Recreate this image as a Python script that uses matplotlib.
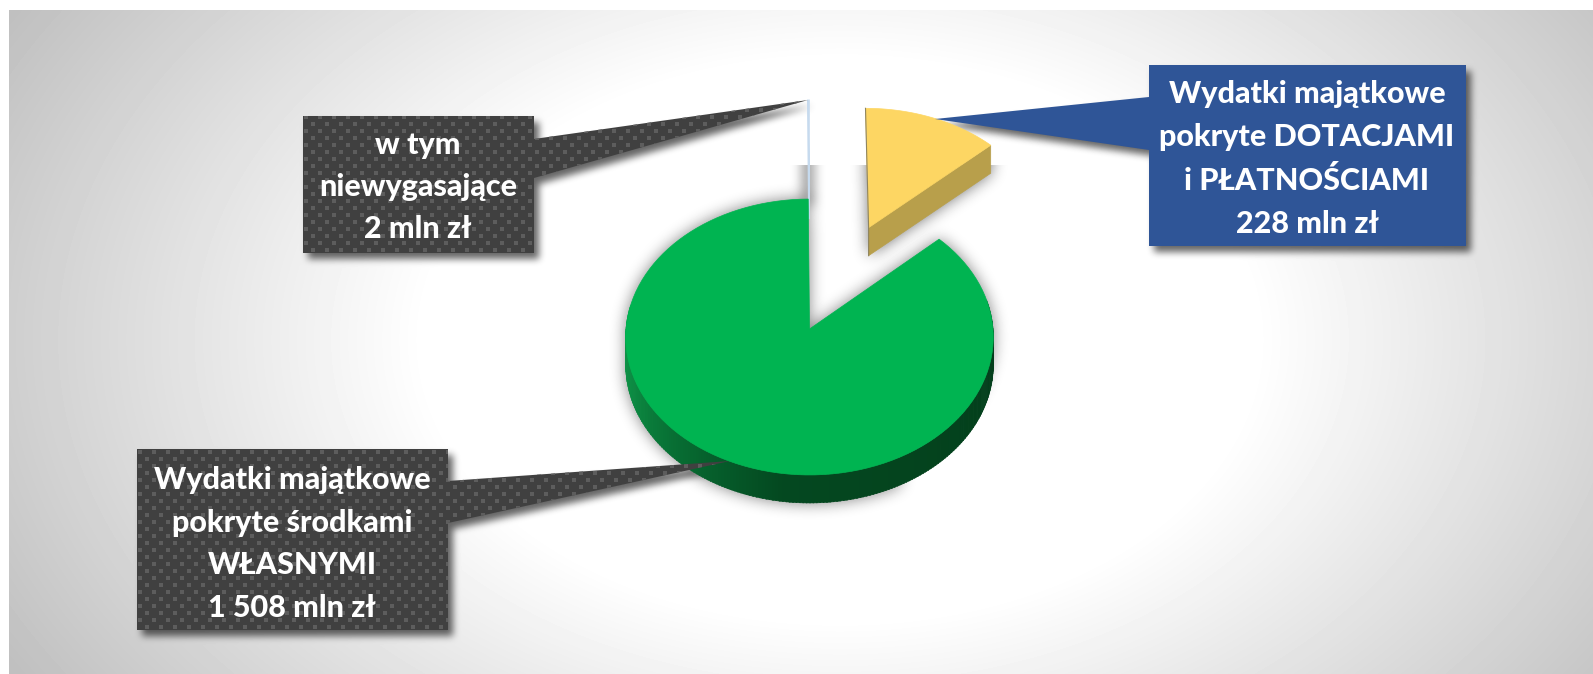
#!/usr/bin/env python3
# pie with tilted look, drawn by hand because matplotlib has no 3D pie
import numpy as np
import matplotlib
matplotlib.use('Agg')
import matplotlib.pyplot as plt
from matplotlib.patches import Polygon
from matplotlib.collections import PolyCollection
from matplotlib.path import Path

W, H = 1593, 674

# data, mln zl, clockwise from 12 o'clock
values = [228, 1508, 2]
explode = [0.84, 0.0, 0.84]
top_colors = ['#fdd663', '#00b451', '#c6daee']

label_own = 'Wydatki majątkowe\npokryte środkami\nWŁASNYMI\n1 508 mln zł'
label_grant = 'Wydatki majątkowe\npokryte DOTACJAMI\ni PŁATNOŚCIAMI\n228 mln zł'
label_nonexp = 'w tym\nniewygasające\n2 mln zł'

# pie placement on the canvas
cx, cy = 809.5, 329
rx, ry = 183.5, 137.5
persp = 0.058
depth = 28


def project(u, v):
    w = 1 + persp * v
    return np.column_stack([cx + rx * u / w, cy - ry * v / w])


def sector(a1, a2, boom, n=120):
    # a1 > a2, degrees. returns the arc and the apex in canvas coordinates
    mid = np.radians((a1 + a2) / 2)
    ox, oy = boom * np.cos(mid), boom * np.sin(mid)
    t = np.radians(np.linspace(a1, a2, n))
    arc = project(ox + np.cos(t), oy + np.sin(t))
    apex = project(np.array([ox]), np.array([oy]))
    return arc, apex


def blur(m, r):
    for _ in range(3):
        for ax_ in (0, 1):
            c = np.cumsum(m, axis=ax_)
            m = (np.roll(c, -r, axis=ax_) - np.roll(c, r + 1, axis=ax_)) / (2 * r + 1)
            # roll wraps round, edges are not important here but zero them
            if ax_ == 0:
                m[:r + 1, :] = 0
                m[-r - 1:, :] = 0
            else:
                m[:, :r + 1] = 0
                m[:, -r - 1:] = 0
    return np.clip(m, 0, 1)


xx, yy = np.meshgrid(np.arange(W) + 0.5, np.arange(H) + 0.5)
grid_pts = np.column_stack([xx.ravel(), yy.ravel()])


def mask_of(poly, dx=0, dy=0):
    return Path(np.asarray(poly) + [dx, dy]).contains_points(grid_pts).reshape(H, W).astype(float)


# angles of each slice
total = sum(values)
edges = 90 - np.cumsum([0] + values) / total * 360
sectors = [sector(edges[i], edges[i + 1], explode[i]) for i in range(3)]

arc_y, apex_y = sectors[0]
arc_g, apex_g = sectors[1]
arc_s, apex_s = sectors[2]

poly_y = np.vstack([apex_y, arc_y])
poly_g = np.vstack([apex_g, arc_g])
poly_s = np.vstack([apex_s, arc_s])

# callouts
box_own = [(137, 449), (448, 449), (448, 481), (730, 461), (448, 523), (448, 630), (137, 630)]
box_grant = [(1149, 65), (1466, 65), (1466, 246), (1149, 246), (1149, 150), (935, 119), (1149, 97)]
box_nonexp = [(303, 116), (534, 116), (534, 139), (808, 100), (534, 178), (534, 253), (303, 253)]

# background, grey at the edges going white round the pie
dx_ = (xx - 840) / 830
dy_ = (yy - 340) / 560
rr = np.sqrt(dx_ ** 2 + dy_ ** 2)
t = np.clip((rr - 0.5) / 0.65, 0, 1)
bg = 255 - 63 * t

# shadows
for b in (box_own, box_grant, box_nonexp):
    bg *= 1 - 0.6 * blur(mask_of(b, 5, 6), 3)

# whole green disc with its side
green_body = mask_of(poly_g) + mask_of(np.vstack([arc_g[40:], arc_g[40:][::-1] + [0, depth]]))
bg *= 1 - 0.5 * blur(np.clip(green_body, 0, 1), 7)

m = blur(np.clip(mask_of(poly_y) + mask_of(np.vstack([apex_y, arc_y[-1:], arc_y[-1:] + [0, depth], apex_y + [0, depth]])), 0, 1), 7)
m[:165, :] = 0
bg *= 1 - 0.55 * m

# sliver throws a soft patch as well, cut off at the same line
m = blur(mask_of([(802, 150), (814, 150), (814, 205), (802, 205)]), 5)
m[:165, :] = 0
bg *= 1 - 0.4 * m

bg[:10, :] = 255
bg[:, :9] = 255

fig = plt.figure(figsize=(W / 100, H / 100), dpi=100)
ax = fig.add_axes([0, 0, 1, 1])
ax.imshow(bg, cmap='gray', vmin=0, vmax=255, extent=(0, W, H, 0), interpolation='bilinear', zorder=0)

# sliver
ax.add_patch(Polygon(poly_s, closed=True, facecolor=top_colors[2], edgecolor=top_colors[2], lw=1.2, zorder=2))

# green side, colour runs along the rim
a_side = np.linspace(170, 372, 203)
stops_a = [170, 200, 235, 262, 372]
stops_c = np.array([[14, 158, 76], [12, 138, 66], [6, 100, 46], [4, 72, 32], [3, 60, 26]]) / 255
quads, cols = [], []
for a0, a1 in zip(a_side[:-1], a_side[1:]):
    tt = np.radians([a0, a1 + 0.3])
    pp = project(np.cos(tt), np.sin(tt))
    quads.append(np.vstack([pp, pp[::-1] + [0, depth]]))
    cols.append([np.interp((a0 + a1) / 2, stops_a, stops_c[:, k]) for k in range(3)])
ax.add_collection(PolyCollection(quads, facecolors=cols, edgecolors=cols, linewidths=0.4, zorder=3))
ax.add_patch(Polygon(poly_g, closed=True, facecolor=top_colors[1], edgecolor=top_colors[1], lw=0.5, zorder=4))

# yellow slice
corner = arc_y[-1:]
ax.add_patch(Polygon(np.vstack([apex_y, corner, corner + [0, depth], apex_y + [0, depth]]),
                     closed=True, facecolor='#b89f4b', edgecolor='#b89f4b', lw=0.5, zorder=4))
ax.add_patch(Polygon(poly_y, closed=True, facecolor=top_colors[0], edgecolor=top_colors[0], lw=0.5, zorder=5))
ax.plot([arc_y[0, 0], apex_y[0, 0], apex_y[0, 0]], [arc_y[0, 1], apex_y[0, 1], apex_y[0, 1] + depth],
        color='#8f8560', lw=0.8, zorder=6)


def callout(points, color, text, tx, ty, dotted=False):
    patch = Polygon(points, closed=True, facecolor=color, edgecolor='none', zorder=7)
    ax.add_patch(patch)
    if dotted:
        # little square dots of the pattern fill
        pts = np.array(points)
        ys = np.arange(pts[:, 1].min() + 3, pts[:, 1].max(), 7)
        dx, dy = [], []
        for i, y in enumerate(ys):
            xs = np.arange(pts[:, 0].min() + 3 + (i % 2) * 7, pts[:, 0].max(), 14)
            dx.extend(xs)
            dy.extend([y] * len(xs))
        dots, = ax.plot(dx, dy, 's', ms=2.3, mew=0, color='#5d5d5d', zorder=8)
        dots.set_clip_path(patch)
    ax.text(tx, ty, text, color='white', family='Lato', fontweight='black', fontsize=22,
            ha='center', va='center', linespacing=1.63, zorder=9)


callout(box_own, '#404040', label_own, 292, 544, dotted=True)
callout(box_grant, '#2f5597', label_grant, 1307, 159)
callout(box_nonexp, '#404040', label_nonexp, 418, 187, dotted=True)

ax.set_xlim(0, W)
ax.set_ylim(H, 0)
ax.axis('off')
fig.savefig('out.png', dpi=100)
